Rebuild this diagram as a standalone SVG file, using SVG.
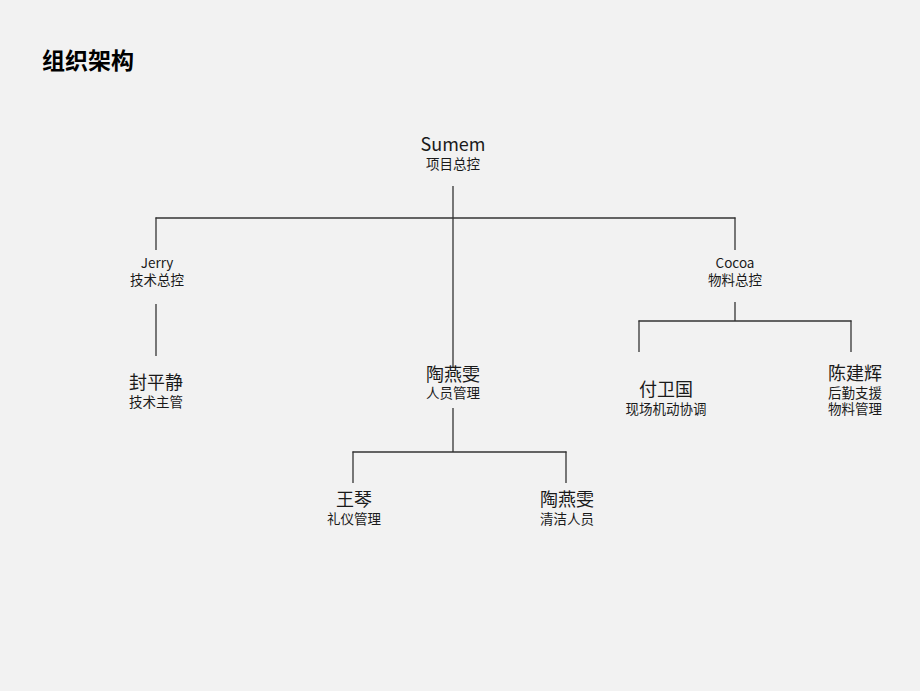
<svg xmlns="http://www.w3.org/2000/svg" width="920" height="691" viewBox="0 0 920 691">
<style>
text{font-family:"Noto Sans CJK SC","Noto Sans",sans-serif;fill:#1a1a1a;text-anchor:middle}
.t{font-size:23px;font-weight:bold;text-anchor:start;fill:#000}
.n{font-size:18px}
.s{font-size:13.5px}
.c line{stroke:#333;stroke-width:1.3}
</style>
<rect width="920" height="691" fill="#f2f2f2"/>
<text class="t" x="42" y="69">组织架构</text>
<g class="c" id="connectors">
<line x1="453" y1="186" x2="453" y2="368"/>
<line x1="155.5" y1="218" x2="735.5" y2="218"/>
<line x1="156" y1="217.5" x2="156" y2="250"/>
<line x1="735" y1="217.5" x2="735" y2="250"/>
<line x1="156" y1="304" x2="156" y2="356"/>
<line x1="735" y1="302" x2="735" y2="321"/>
<line x1="638.5" y1="321" x2="851.5" y2="321"/>
<line x1="639" y1="320.5" x2="639" y2="352"/>
<line x1="851" y1="320.5" x2="851" y2="352"/>
<line x1="453" y1="408" x2="453" y2="452"/>
<line x1="352.5" y1="452" x2="566.5" y2="452"/>
<line x1="353" y1="451.5" x2="353" y2="483"/>
<line x1="566" y1="451.5" x2="566" y2="483"/>
</g>
<g id="sumem"><text class="n" x="453" y="151">Sumem</text><text class="s" x="453" y="168.5">项目总控</text></g>
<g id="jerry"><text class="s" x="157" y="268">Jerry</text><text class="s" x="157" y="284.5">技术总控</text></g>
<g id="cocoa"><text class="s" x="735" y="268">Cocoa</text><text class="s" x="735" y="284.5">物料总控</text></g>
<g id="fengpingjing"><text class="n" x="156" y="389">封平静</text><text class="s" x="156" y="406.5">技术主管</text></g>
<g id="taoyanwen1"><text class="n" x="453" y="381">陶燕雯</text><text class="s" x="453" y="397.5">人员管理</text></g>
<g id="fuweiguo"><text class="n" x="666" y="396">付卫国</text><text class="s" x="666" y="413.5">现场机动协调</text></g>
<g id="chenjianhui"><text class="n" x="855" y="380">陈建辉</text><text class="s" x="855" y="397.5">后勤支援</text><text class="s" x="855" y="413.5">物料管理</text></g>
<g id="wangqin"><text class="n" x="354" y="506">王琴</text><text class="s" x="354" y="523.5">礼仪管理</text></g>
<g id="taoyanwen2"><text class="n" x="567" y="506">陶燕雯</text><text class="s" x="567" y="523.5">清洁人员</text></g>
</svg>
